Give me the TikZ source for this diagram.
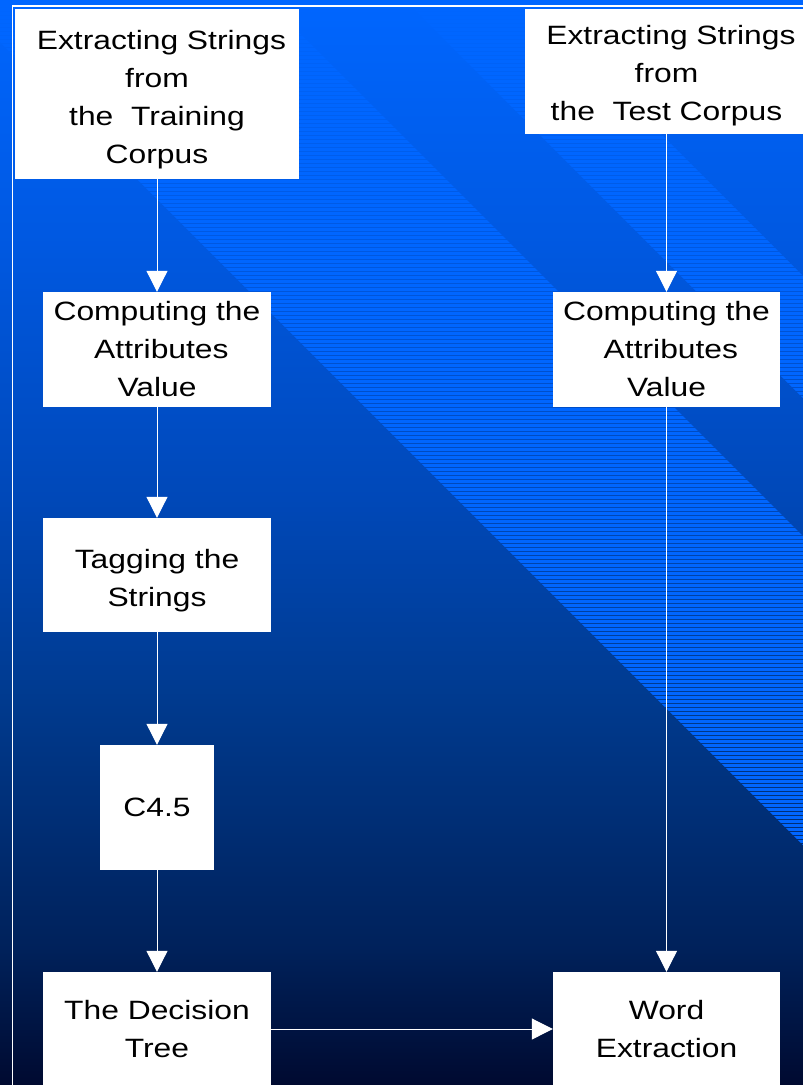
\documentclass[tikz,border=0pt]{standalone}
\usepackage{fontspec}
\setmainfont{Liberation Sans}[FakeStretch=1.2]
\usetikzlibrary{arrows.meta}
\definecolor{ctop}{HTML}{0066FF}
\definecolor{cA}{HTML}{0058E0}
\definecolor{cB}{HTML}{0048B8}
\definecolor{cC}{HTML}{003A8E}
\definecolor{cD}{HTML}{00215A}
\definecolor{cbot}{HTML}{000A30}
\pgfdeclareverticalshading{bgshade}{100bp}{color(0bp)=(cbot); color(25bp)=(cbot); color(31.2bp)=(cD); color(42.7bp)=(cC); color(52bp)=(cB); color(63.5bp)=(cA); color(75bp)=(ctop); color(100bp)=(ctop)}
\newcommand\padtop[1]{\rule{0pt}{#1pt}}
\begin{document}
\begin{tikzpicture}[x=1pt,y=-1pt,
  box/.style={fill=white, draw=none, inner sep=0pt, align=center,
    font=\fontsize{26.5}{38}\selectfont, text=black},
  conn/.style={draw=white, line width=1pt, -{Triangle[width=21pt,length=21pt]}},
  frameline/.style={draw=white, line width=1.5pt}]
\useasboundingbox (0,0) rectangle (803,1085);
\clip (0,0) rectangle (803,1085);
% background gradient
\fill[shading=bgshade] (0,0) rectangle (803,1085);
% striped diagonal bands
\begin{scope}
  \clip (-42,0) -- (267,0) -- (1352,1085) -- (1043,1085) -- cycle
        (405,0) -- (527,0) -- (1612,1085) -- (1490,1085) -- cycle;
  \foreach \i in {0,...,271} \fill[ctop] (0,4*\i) rectangle (803,4*\i+3);
\end{scope}
% frame
\draw[frameline] (12.5,1090) -- (12.5,6) -- (810,6);
% boxes
\node[box, minimum width=284pt, minimum height=170pt] (b1) at (157,94)
  {\padtop{29.5}\hspace*{8.8pt}Extracting Strings\\from\\the\ \ Training\\Corpus};
\node[box, minimum width=228pt, minimum height=115pt] (b2) at (157,349.5)
  {Computing the\\\hspace*{8.8pt}Attributes\\Value};
\node[box, minimum width=228pt, minimum height=114pt] (b3) at (157,575)
  {\padtop{29.5}Tagging the\\Strings};
\node[box, minimum width=114pt, minimum height=125pt] (b4) at (157,807.5)
  {C4.5};
\node[box, minimum width=228pt, minimum height=114pt] (b5) at (157,1029)
  {The Decision\\Tree};
\node[box, minimum width=284pt, minimum height=125pt] (r1) at (666.5,71.5)
  {\padtop{26.5}\hspace*{8.8pt}Extracting Strings\\from\\the\ \ Test Corpus};
\node[box, minimum width=227pt, minimum height=115pt] (r2) at (666.5,349.5)
  {Computing the\\\hspace*{8.8pt}Attributes\\Value};
\node[box, minimum width=227pt, minimum height=114pt] (r3) at (666.5,1029)
  {Word\\Extraction};
% connectors
\draw[conn] (b1) -- (b2);
\draw[conn] (b2) -- (b3);
\draw[conn] (b3) -- (b4);
\draw[conn] (b4) -- (b5);
\draw[conn] (r1) -- (r2);
\draw[conn] (r2) -- (r3);
\draw[conn] (b5) -- (r3);
\end{tikzpicture}
\end{document}
